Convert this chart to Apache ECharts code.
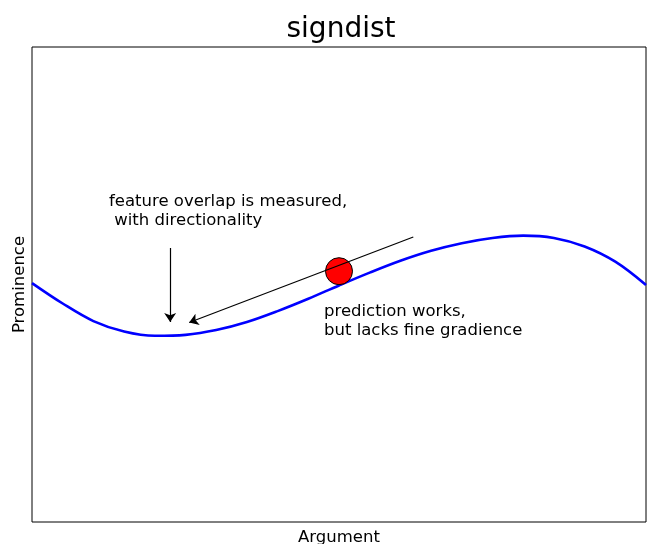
<!DOCTYPE html>
<html>
<head>
<meta charset="utf-8">
<title>signdist</title>
<script src="https://cdn.jsdelivr.net/npm/echarts@6/dist/echarts.min.js"></script>
<style>
    html, body { margin: 0; padding: 0; background: #fff; }
    #main { width: 647px; height: 544px; }
</style>
</head>
<body>
<div id="main"></div>
<script>
// curve (x and y both on a 0..100 scale)
var argValues = [0, 5, 10, 15, 20, 25, 30, 35, 40, 45, 50,
                 55, 60, 65, 70, 75, 80, 85, 90, 95, 100];
var prominenceValues = [50.3, 46.0, 42.3, 40.1, 39.2, 39.4, 40.4, 42.1, 44.4, 47.0, 49.8,
                        52.5, 55.0, 57.1, 58.7, 59.8, 60.3, 59.8, 58.0, 54.8, 49.9];

// red marker sitting on the curve
var markerPoint = [50.0, 52.8];

// arrows: [from, to]
var arrowDown  = [[22.5, 57.7], [22.5, 42.1]];
var arrowSlope = [[62.1, 60.0], [25.6, 42.0]];

var noteTop    = "feature overlap is measured,\n with directionality";
var noteBottom = "prediction works,\nbut lacks fine gradience";

var FONT = "DejaVu Sans";

var curve = [];
for (var i = 0; i < argValues.length; i++) {
    curve.push([argValues[i], prominenceValues[i]]);
}

var chart = echarts.init(document.getElementById('main'), null, { renderer: 'canvas' });

function textEl(x, y, str, size, align, vAlign, lh) {
    return {
        type: 'text',
        x: x, y: y,
        z: 100,
        style: {
            text: str,
            fill: '#000',
            fontFamily: FONT,
            fontSize: size,
            lineHeight: lh || size * 1.2,
            align: align,
            verticalAlign: vAlign
        }
    };
}

var option = {
    animation: false,
    backgroundColor: '#fff',
    textStyle: { fontFamily: FONT },
    grid: {
        left: 32, right: 1, top: 47, bottom: 22,
        outerBoundsMode: 'none',
        containLabel: false,
        show: true,
        borderColor: '#000',
        borderWidth: 1
    },
    xAxis: {
        type: 'value',
        min: 0, max: 100,
        name: 'Argument',
        nameLocation: 'middle',
        nameGap: 7,
        nameTextStyle: { color: '#000', fontSize: 16.5, fontFamily: FONT },
        axisLine: { show: false },
        axisTick: { show: false },
        axisLabel: { show: false },
        splitLine: { show: false }
    },
    yAxis: {
        type: 'value',
        min: 0, max: 100,
        name: 'Prominence',
        nameLocation: 'middle',
        nameGap: 4,
        nameTextStyle: { color: '#000', fontSize: 16.5, fontFamily: FONT },
        axisLine: { show: false },
        axisTick: { show: false },
        axisLabel: { show: false },
        splitLine: { show: false }
    },
    series: [
        {
            type: 'line',
            data: curve,
            smooth: 0.35,
            showSymbol: false,
            lineStyle: { color: '#0000ff', width: 2.6 },
            z: 2
        },
        {
            type: 'scatter',
            data: [markerPoint],
            symbolSize: 27,
            itemStyle: { color: '#ff0000', borderColor: '#000', borderWidth: 1, opacity: 1 },
            z: 3
        },
        {
            type: 'lines',
            coordinateSystem: 'cartesian2d',
            polyline: false,
            symbol: ['none', 'arrow'],
            symbolSize: 9,
            lineStyle: { color: '#000', width: 1.2, opacity: 1, curveness: 0 },
            data: [
                { coords: arrowDown },
                { coords: arrowSlope }
            ],
            z: 4
        }
    ],
    graphic: [
        textEl(341, 30, 'signdist', 28, 'center', 'middle'),
        textEl(109, 192, noteTop, 16.5, 'left', 'top', 19),
        textEl(324, 302, noteBottom, 16.5, 'left', 'top', 19)
    ]
};

chart.setOption(option);
</script>
</body>
</html>
